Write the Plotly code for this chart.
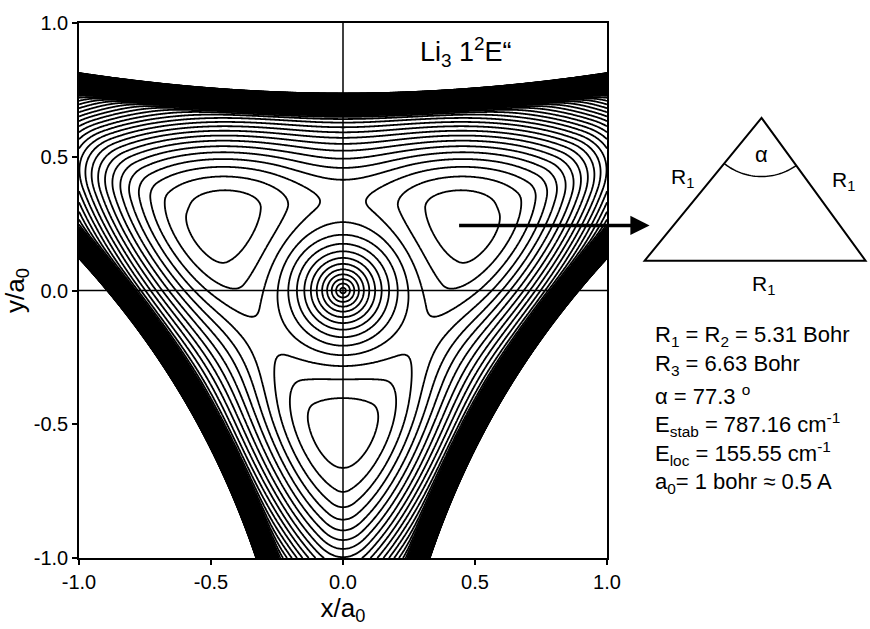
import numpy as np
import plotly.graph_objects as go

# Energetics of the Li3 1^2E" lower sheet (cm^-1)
E_STAB = 787.16          # conical intersection -> minimum
E_LOC = 155.55           # minimum -> saddle between neighbouring minima

# Minima of the lower sheet (polar radius in a0, directions in degrees)
WELL_RADIUS = 0.51
WELL_DIRECTIONS = [30, 150, 270]
SADDLE_DIRECTION = 90

# Radial shape of the moat
CONE_SLOPE = 2.7          # relative slope at the intersection
OUTER_CURVATURE = 1.0     # relative curvature beyond the moat
WARP_ONSET = 0.35         # relative radius where the threefold warping sets in

# Repulsive walls bounding the accessible region (top, lower-left, lower-right)
WALL_DIRECTIONS = [90, 210, 330]          # outward normals (deg)
WALL_BEND = [0.08, 0.167, 0.167]          # curvature along each wall
WALL_TILT = [0.0, -0.032, 0.032]          # slight rotation of each wall
WALL_RAMP = [4410.0, 0.30]                # gentle rise (cm^-1/a0^2), onset (a0)
WALL_STIFF = 1.0e6                        # steep rise (cm^-1/a0^2)
WALL_STIFF_ONSET = [0.652, 0.641, 0.641]  # onset of the steep rise (a0)
WALL_SOFTEN = 0.011                       # rounding of the steep onset (a0)

# Contour levels (cm^-1)
LEVEL_START = -755
LEVEL_STEP = 55
LEVEL_END = 7460

TICK_VALUES = [-1.0, -0.5, 0.0, 0.5, 1.0]
TICK_TEXT = ["-1.0", "-0.5", "0.0", "0.5", "1.0"]

GEOMETRY_LINES = [
    "R<sub>1</sub> = R<sub>2</sub> = 5.31 Bohr",
    "R<sub>3</sub> = 6.63 Bohr",
    "α = 77.3 <sup>o</sup>",
    "E<sub>stab</sub> = 787.16 cm<sup>-1</sup>",
    "E<sub>loc</sub> = 155.55 cm<sup>-1</sup>",
    "a<sub>0</sub>= 1 bohr ≈ 0.5 A",
]


# ---- model surface ----
def surface(X, Y, warp):
    R = np.hypot(X, Y)
    PHI = np.arctan2(Y, X)
    s = R / WELL_RADIUS
    a = CONE_SLOPE
    inner = -a * s + (2 * a - 3) * s ** 2 + (2 - a) * s ** 3
    outer = -1.0 + 0.5 * OUTER_CURVATURE * (s - 1.0) ** 2
    h = np.where(s <= 1.0, inner, outer)
    q = np.clip((s - WARP_ONSET) / (1.0 - WARP_ONSET), 0.0, 1.0)
    psi = q ** 2 * (3 - 2 * q)
    phi0 = np.deg2rad(WELL_DIRECTIONS[0])
    V = (E_STAB - warp) * h - warp * psi * np.cos(3 * (PHI - phi0))
    for ang, bend, tilt, onset in zip(WALL_DIRECTIONS, WALL_BEND, WALL_TILT,
                                      WALL_STIFF_ONSET):
        t = np.deg2rad(ang)
        normal = X * np.cos(t) + Y * np.sin(t)
        along = -X * np.sin(t) + Y * np.cos(t)
        u = normal - bend * along ** 2 - tilt * along
        V = V + WALL_RAMP[0] * np.maximum(u - WALL_RAMP[1], 0.0) ** 2
        z = (u - onset) / WALL_SOFTEN
        depth = WALL_SOFTEN * np.logaddexp(0.0, z)
        V = V + WALL_STIFF * depth ** 2
    return V


def barrier(warp):
    r = np.linspace(0.0, 0.9, 901)
    ts = np.deg2rad(SADDLE_DIRECTION)
    tw = np.deg2rad(WELL_DIRECTIONS[0])
    v_s = surface(r * np.cos(ts), r * np.sin(ts), warp).min()
    v_w = surface(r * np.cos(tw), r * np.sin(tw), warp).min()
    return v_s - v_w


# warping strength that reproduces the localisation energy
lo, hi = 0.0, 400.0
for _ in range(50):
    mid = 0.5 * (lo + hi)
    if barrier(mid) < E_LOC:
        lo = mid
    else:
        hi = mid
warp = 0.5 * (lo + hi)

n = 501
xs = np.linspace(-1.0, 1.0, n)
ys = np.linspace(-1.0, 1.0, n)
X, Y = np.meshgrid(xs, ys)
Z = surface(X, Y, warp)
Z = np.round(np.minimum(Z, LEVEL_END + 500), 1)

fig = go.Figure()
fig.add_trace(go.Contour(
    x=xs, y=ys, z=Z,
    autocontour=False,
    contours=dict(start=LEVEL_START, end=LEVEL_END, size=LEVEL_STEP,
                  coloring="none"),
    line=dict(color="black", width=1.8, smoothing=1),
    showscale=False, hoverinfo="skip",
))

# reference cross through the origin
for x0, y0, x1, y1 in [(-1, 0, 1, 0), (0, -1, 0, 1)]:
    fig.add_shape(type="line", xref="x", yref="y", x0=x0, y0=y0, x1=x1, y1=y1,
                  line=dict(color="black", width=1.5), layer="above")

# ---- layout geometry (pixels of the 870x629 canvas) ----
W, H = 870, 629
L, T, RGT, B = 74, 20, 607, 567


def px(xp):
    return (xp - L) / (RGT - L)


def py(yp):
    return (B - yp) / (B - T)


FONT = "Liberation Sans, Arial, sans-serif"

# triangle sketch of the minimum geometry
apex, bl, br = (763, 117), (645, 263), (868, 263)
tri = "M {},{} L {},{} L {},{} Z".format(px(apex[0]), py(apex[1]), px(bl[0]), py(bl[1]),
                                         px(br[0]), py(br[1]))
fig.add_shape(type="path", xref="paper", yref="paper", path=tri,
              line=dict(color="black", width=2))

a_left = np.arctan2(bl[1] - apex[1], bl[0] - apex[0])
a_right = np.arctan2(br[1] - apex[1], br[0] - apex[0])
arc_t = np.linspace(a_right, a_left, 40)
arc_r = 60
arc_pts = [(px(apex[0] + arc_r * np.cos(t)), py(apex[1] + arc_r * np.sin(t))) for t in arc_t]
arc = "M " + " L ".join("{:.5f},{:.5f}".format(p, q) for p, q in arc_pts)
fig.add_shape(type="path", xref="paper", yref="paper", path=arc,
              line=dict(color="black", width=1.5))


def label(text, xp, yp, size=21, anchor="center"):
    fig.add_annotation(text=text, xref="paper", yref="paper", x=px(xp), y=py(yp),
                       xanchor=anchor, yanchor="middle", showarrow=False,
                       font=dict(family=FONT, size=size, color="black"))


label("α", 763, 154, 22)
label("R<sub>1</sub>", 683, 178)
label("R<sub>1</sub>", 846, 182)
label("R<sub>1</sub>", 765, 288)
label("Li<sub>3</sub> 1<sup>2</sup>E“", 465, 50, 27)

for i, line in enumerate(GEOMETRY_LINES):
    label(line, 653, 340 + 30 * i, 22, anchor="left")

# arrow from the right-hand minimum to the geometry sketch
fig.add_annotation(xref="paper", yref="paper", x=px(650), y=py(227),
                   ax=-192, ay=0, axref="pixel", ayref="pixel", text="",
                   showarrow=True, arrowhead=2, arrowsize=1.1, arrowwidth=3.5,
                   arrowcolor="black")

axis_common = dict(
    range=[-1, 1], tickvals=TICK_VALUES, ticktext=TICK_TEXT,
    showline=True, linecolor="black", linewidth=1.5, mirror=True,
    ticks="outside", ticklen=5, tickwidth=1.5, tickcolor="black",
    showgrid=False, zeroline=False,
    tickfont=dict(family=FONT, size=20, color="black"),
)
fig.update_layout(
    width=W, height=H, autosize=False,
    margin=dict(l=L, r=W - RGT, t=T, b=H - B),
    paper_bgcolor="white", plot_bgcolor="white",
    xaxis=dict(axis_common, title=dict(text="x/a<sub>0</sub>", standoff=6,
                                       font=dict(family=FONT, size=26, color="black"))),
    yaxis=dict(axis_common, title=dict(text="y/a<sub>0</sub>", standoff=4,
                                       font=dict(family=FONT, size=26, color="black"))),
    showlegend=False,
)

fig.write_html("out.html")
